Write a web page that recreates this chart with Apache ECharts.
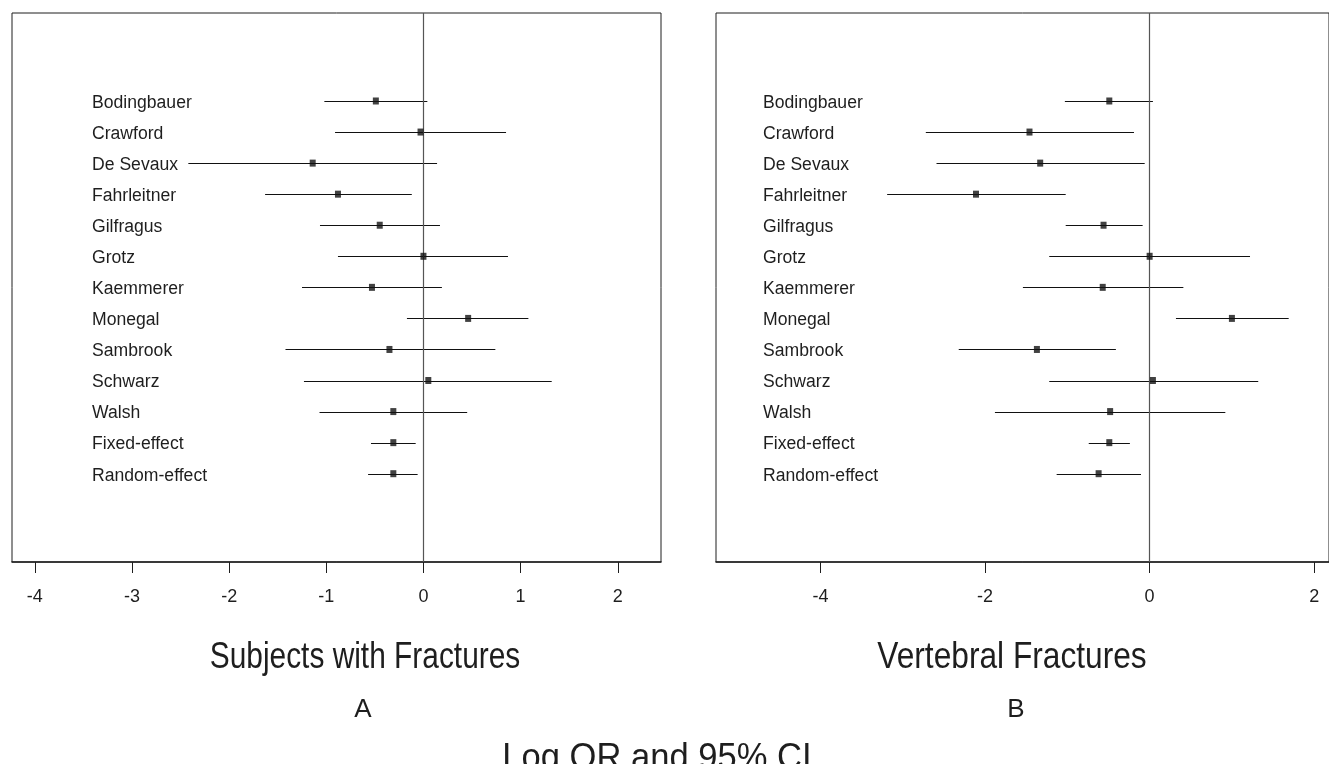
<!DOCTYPE html>
<html>
<head>
<meta charset="utf-8">
<title>Log OR and 95% CI</title>
<script src="https://cdn.jsdelivr.net/npm/echarts@6/dist/echarts.min.js"></script>
<style>
  html, body { margin: 0; padding: 0; background: #fff; }
  #chart { width: 1329px; height: 764px; }
</style>
</head>
<body>
<div id="chart"></div>
<script>
// study names, top to bottom
const names = ['Bodingbauer', 'Crawford', 'De Sevaux', 'Fahrleitner', 'Gilfragus', 'Grotz',
  'Kaemmerer', 'Monegal', 'Sambrook', 'Schwarz', 'Walsh', 'Fixed-effect', 'Random-effect'];

// A: subjects with fractures (log OR, 95% CI)
const subjLow  = [-1.02, -0.91, -2.42, -1.63, -1.065, -0.88, -1.25, -0.17, -1.42, -1.23, -1.07, -0.54, -0.57];
const subjEst  = [-0.49, -0.03, -1.14, -0.88, -0.45,  0.00, -0.53,  0.46, -0.35,  0.05, -0.31, -0.31, -0.31];
const subjHigh = [ 0.04,  0.85,  0.14, -0.12,  0.17,  0.87,  0.19,  1.08,  0.74,  1.32,  0.45, -0.08, -0.06];

// B: vertebral fractures
const vertLow  = [-1.03, -2.72, -2.59, -3.19, -1.02, -1.22, -1.54, 0.32, -2.32, -1.22, -1.88, -0.74, -1.13];
const vertEst  = [-0.49, -1.46, -1.33, -2.11, -0.56,  0.00, -0.57, 1.00, -1.37,  0.04, -0.48, -0.49, -0.62];
const vertHigh = [ 0.04, -0.19, -0.06, -1.02, -0.085, 1.22,  0.41, 1.69, -0.41,  1.32,  0.92, -0.24, -0.105];

const ticksA = [-4, -3, -2, -1, 0, 1, 2];
const ticksB = [-4, -2, 0, 2];
const rowIdx = names.map((n, i) => i);

const FONT = "'Liberation Sans', Arial, sans-serif";
const INK = '#1e1e1e';

function xAxisFor(gi, min, max, ticks) {
  return {
    gridIndex: gi, type: 'value', min: min, max: max,
    axisLine: { show: true, onZero: false, lineStyle: { color: INK, width: 1.6 } },
    axisTick: { show: true, customValues: ticks, length: 11, lineStyle: { color: INK } },
    axisLabel: { customValues: ticks, margin: 26, fontSize: 18, fontFamily: FONT, color: INK },
    splitLine: { show: false }
  };
}

function yAxisFor(gi, margin) {
  return {
    gridIndex: gi, type: 'value', inverse: true, min: -2.833, max: 14.843,
    axisLine: { show: false },
    axisTick: { show: false },
    splitLine: { show: false },
    axisLabel: {
      inside: true, margin: margin, customValues: rowIdx,
      formatter: function (v) { return '{n|' + names[v] + '}'; },
      rich: { n: { padding: [4, 0, 0, 0], fontSize: 17.6, fontFamily: FONT, color: INK } }
    }
  };
}

function barSeries(gi, low, high) {
  return {
    type: 'custom', xAxisIndex: gi, yAxisIndex: gi,
    encode: { x: [0, 1], y: 2 },
    data: names.map((n, i) => [low[i], high[i], i]),
    renderItem: function (params, api) {
      const a = api.coord([api.value(0), api.value(2)]);
      const b = api.coord([api.value(1), api.value(2)]);
      const y = Math.round(a[1]) + 0.5;
      return {
        type: 'line',
        shape: { x1: a[0], y1: y, x2: b[0], y2: y },
        style: { stroke: '#111', lineWidth: 1.2 }
      };
    },
    silent: true
  };
}

function pointSeries(gi, est) {
  return {
    type: 'scatter', xAxisIndex: gi, yAxisIndex: gi,
    symbol: 'rect', symbolSize: [6, 7],
    itemStyle: { color: '#111' },
    data: est.map((v, i) => [v, i]),
    z: 5,
    markLine: {
      silent: true, symbol: 'none', label: { show: false },
      lineStyle: { color: '#555', width: 1.2, type: 'solid' },
      data: [{ xAxis: 0 }]
    }
  };
}

function bigText(str, x, y, size, sx) {
  return {
    type: 'text', x: x, y: y, scaleX: sx,
    style: {
      text: str, x: 0, y: 0, fill: INK,
      font: size + 'px ' + FONT, align: 'center', verticalAlign: 'middle'
    }
  };
}

const chart = echarts.init(document.getElementById('chart'));
chart.setOption({
  animation: false,
  backgroundColor: '#fff',
  grid: [
    { left: 12, top: 13, width: 649, height: 549, show: true, borderColor: INK, borderWidth: 1 },
    { left: 716, top: 13, width: 615, height: 549, show: true, borderColor: INK, borderWidth: 1 }
  ],
  xAxis: [xAxisFor(0, -4.235, 2.445, ticksA), xAxisFor(1, -5.27, 2.18, ticksB)],
  yAxis: [yAxisFor(0, 80), yAxisFor(1, 47)],
  series: [
    barSeries(0, subjLow, subjHigh), pointSeries(0, subjEst),
    barSeries(1, vertLow, vertHigh), pointSeries(1, vertEst)
  ],
  graphic: [
    bigText('Subjects with Fractures', 365, 658, 36, 0.83),
    bigText('A', 363, 710, 26, 1),
    bigText('Vertebral Fractures', 1012, 658, 36, 0.88),
    bigText('B', 1016, 710, 26, 1),
    bigText('Log OR and 95% CI', 657, 759, 36, 0.96)
  ]
});
</script>
</body>
</html>
